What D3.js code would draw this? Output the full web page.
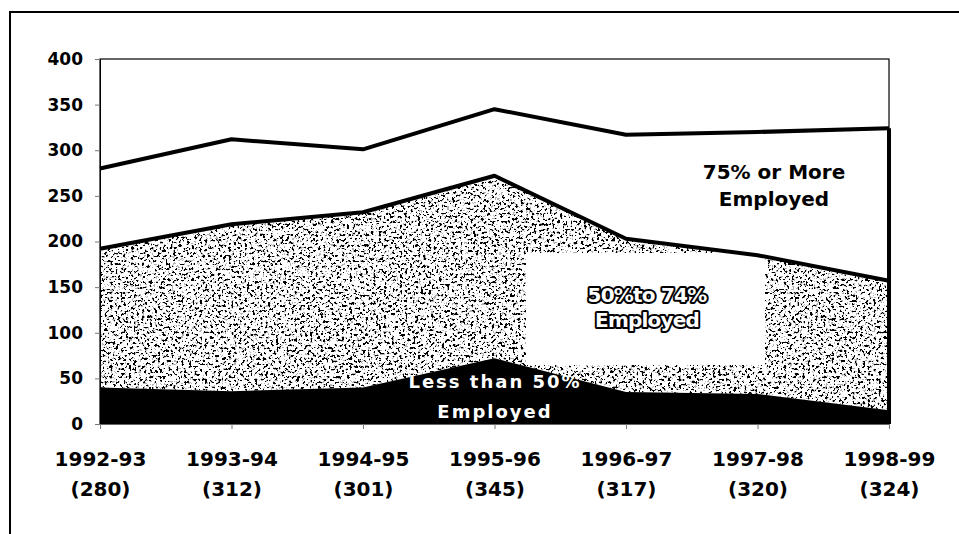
<!DOCTYPE html>
<head>
    <meta charset="utf-8">
    <script src="https://d3js.org/d3.v7.min.js"></script>
    <style>
        body {
            margin: 0;
            background-color: #fff;
        }

        .axis text {
            font-family: "DejaVu Sans", sans-serif;
            font-weight: bold;
            fill: #000;
        }

        .axis .tick line {
            stroke: #777;
        }

        .label {
            font-family: "DejaVu Sans", sans-serif;
            font-weight: bold;
            text-anchor: middle;
        }
    </style>
</head>

<body>
    <script>
        var width = 959,
            height = 534;

        var years = ["1992-93", "1993-94", "1994-95", "1995-96", "1996-97", "1997-98", "1998-99"];
        var totals = [280, 312, 301, 345, 317, 320, 324];
        var below50 = [40, 36, 40, 72, 35, 33, 15];
        var mid50to74 = [152, 183, 192, 200, 168, 152, 142];
        var over75 = [88, 93, 69, 73, 114, 135, 167];
        var yTicks = [0, 50, 100, 150, 200, 250, 300, 350, 400];

        var keys = ["below50", "mid", "over75"];
        var table = years.map(function(d, i) {
            return { year: d, total: totals[i], below50: below50[i], mid: mid50to74[i], over75: over75[i] };
        });
        var series = d3.stack().keys(keys)(table);

        var margin = { left: 100, right: 70, top: 59, bottom: 110 };

        var x = d3.scalePoint()
            .domain(years)
            .range([margin.left, width - margin.right]);

        var y = d3.scaleLinear()
            .domain([0, 400])
            .range([height - margin.bottom, margin.top]);

        var svg = d3.select("body").append("svg")
            .attr("width", width)
            .attr("height", height);

        // grainy scan-like texture for the middle band
        var defs = svg.append("defs");
        var f = defs.append("filter")
            .attr("id", "grain")
            .attr("x", 0).attr("y", 0).attr("width", 1).attr("height", 1);
        f.append("feTurbulence")
            .attr("type", "fractalNoise")
            .attr("baseFrequency", 0.38)
            .attr("numOctaves", 4)
            .attr("seed", 11)
            .attr("result", "noise");
        f.append("feColorMatrix")
            .attr("in", "noise")
            .attr("type", "matrix")
            .attr("values", "0 0 0 0 0  0 0 0 0 0  0 0 0 0 0  1 0 0 0 0");
        f.append("feComponentTransfer")
            .append("feFuncA")
            .attr("type", "discrete")
            .attr("tableValues", "0 0 0 0 0 0 0 0 0 0.3 1 1 1 1 1 1");
        f.append("feComposite")
            .attr("in2", "SourceGraphic")
            .attr("operator", "in");

        // outer frame
        svg.append("path")
            .attr("d", "M10," + height + "V12H" + width)
            .attr("fill", "none")
            .attr("stroke", "#000")
            .attr("stroke-width", 2);

        // plot area border
        svg.append("rect")
            .attr("x", margin.left)
            .attr("y", margin.top)
            .attr("width", x.range()[1] - margin.left)
            .attr("height", y(0) - margin.top)
            .attr("fill", "#fff")
            .attr("stroke", "#000")
            .attr("stroke-width", 1.2);

        var area = d3.area()
            .x(function(d) { return x(d.data.year); })
            .y0(function(d) { return y(d[0]); })
            .y1(function(d) { return y(d[1]); });

        svg.append("path")
            .datum(series[1])
            .attr("d", area)
            .attr("fill", "#fff");

        svg.append("path")
            .datum(series[1])
            .attr("d", area)
            .attr("fill", "#000")
            .attr("filter", "url(#grain)");

        // white box behind the middle label
        svg.append("rect")
            .attr("x", 526)
            .attr("y", 253)
            .attr("width", 239)
            .attr("height", 112)
            .attr("fill", "#fff");

        svg.append("path")
            .datum(series[0])
            .attr("d", area)
            .attr("fill", "#000");

        var line = d3.line()
            .x(function(d) { return x(d.data.year); })
            .y(function(d) { return y(d[1]); });

        svg.selectAll(".edge")
            .data([series[1], series[2]])
            .enter().append("path")
            .attr("class", "edge")
            .attr("d", line)
            .attr("fill", "none")
            .attr("stroke", "#000")
            .attr("stroke-width", 4)
            .attr("stroke-linejoin", "round");

        // thick right edge of the stack
        var last = years.length - 1;
        svg.append("line")
            .attr("x1", x(years[last]))
            .attr("x2", x(years[last]))
            .attr("y1", y(totals[last]))
            .attr("y2", y(0))
            .attr("stroke", "#000")
            .attr("stroke-width", 4);

        // axes
        var yAxis = svg.append("g")
            .attr("class", "axis")
            .attr("transform", "translate(" + margin.left + ",0)")
            .call(d3.axisLeft(y).tickValues(yTicks).tickSize(5).tickPadding(12));
        yAxis.selectAll("text").style("font-size", "17px");
        yAxis.select(".domain").attr("stroke", "#000");

        var xAxis = svg.append("g")
            .attr("class", "axis")
            .attr("transform", "translate(0," + y(0) + ")")
            .call(d3.axisBottom(x).tickSize(5).tickFormat(""));
        xAxis.select(".domain").remove();

        xAxis.selectAll(".tick").each(function(d, i) {
            var t = d3.select(this).append("text")
                .style("font-size", "20px")
                .attr("text-anchor", "middle");
            t.append("tspan").attr("x", 0).attr("y", 42).text(d);
            t.append("tspan").attr("x", 0).attr("y", 72).text("(" + totals[i] + ")");
        });

        // series labels
        var l1 = svg.append("text")
            .attr("class", "label")
            .style("font-size", "20px")
            .attr("fill", "#000");
        l1.append("tspan").attr("x", 774).attr("y", 179).text("75% or More");
        l1.append("tspan").attr("x", 774).attr("y", 206).text("Employed");

        var l2 = svg.append("text")
            .attr("class", "label")
            .style("font-size", "20px")
            .style("letter-spacing", "-0.8px")
            .attr("fill", "#fff")
            .attr("stroke", "#000")
            .attr("stroke-width", 4)
            .attr("paint-order", "stroke")
            .attr("stroke-linejoin", "round");
        l2.append("tspan").attr("x", 647).attr("y", 302).text("50%to 74%");
        l2.append("tspan").attr("x", 647).attr("y", 327).text("Employed");

        var l3 = svg.append("text")
            .attr("class", "label")
            .style("font-size", "18px")
            .style("letter-spacing", "2px")
            .attr("fill", "#fff");
        l3.append("tspan").attr("x", 495).attr("y", 388).text("Less than 50%");
        l3.append("tspan").attr("x", 495).attr("y", 418).text("Employed");
    </script>
</body>
